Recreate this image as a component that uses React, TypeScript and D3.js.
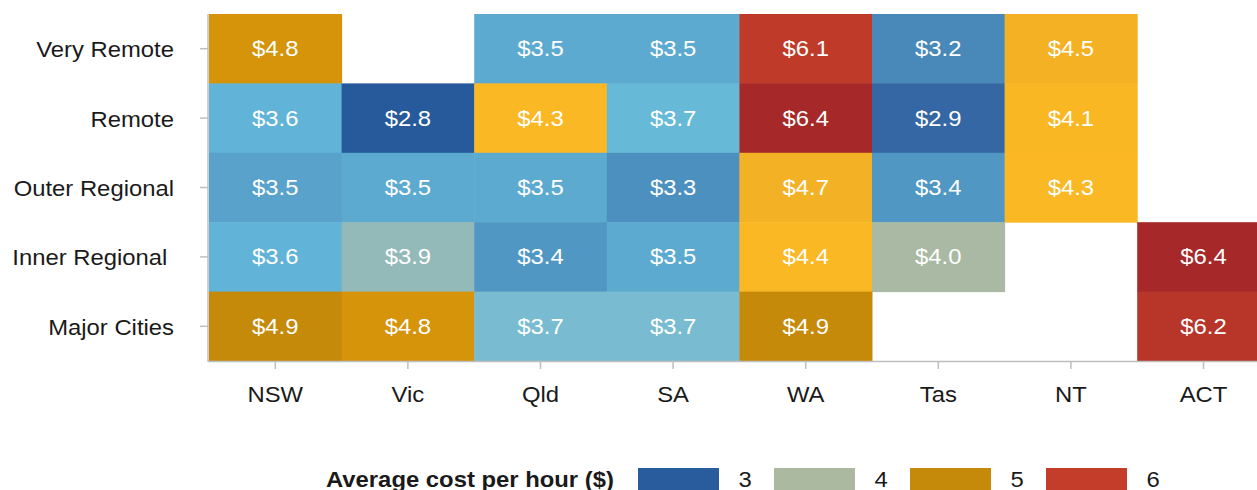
import * as d3 from "d3";
import { useEffect, useRef } from "react";

const states = ["NSW", "Vic", "Qld", "SA", "WA", "Tas", "NT", "ACT"];
const regions = ["Very Remote", "Remote", "Outer Regional", "Inner Regional", "Major Cities"];

// average cost per hour, one array per region (null = no data)
const veryRemote = [4.8, null, 3.5, 3.5, 6.1, 3.2, 4.5, null];
const remote = [3.6, 2.8, 4.3, 3.66, 6.4, 2.9, 4.1, null];
const outerRegional = [3.46, 3.5, 3.5, 3.3, 4.7, 3.4, 4.3, null];
const innerRegional = [3.6, 3.9, 3.4, 3.5, 4.4, 4.0, null, 6.4];
const majorCities = [4.9, 4.8, 3.74, 3.74, 4.9, null, null, 6.2];

const legendValues = [3, 4, 5, 6];
const legendColors = ["#285c9c", "#abb9a0", "#c68a0a", "#c43d2b"];

const colorStops: [number, string][] = [
  [2.8, "#265a9a"], [2.9, "#3467a3"], [3.2, "#4889b9"], [3.3, "#4c90bf"],
  [3.4, "#5097c4"], [3.46, "#58a2cb"], [3.5, "#5caad0"], [3.6, "#61b3d8"],
  [3.66, "#66bad8"], [3.74, "#79bbd0"], [3.9, "#93b9b9"], [4.0, "#a9b9a3"],
  [4.1, "#fab724"], [4.4, "#fbb825"], [4.5, "#f4b124"], [4.7, "#f3b125"],
  [4.8, "#d5940a"], [4.9, "#c68a0a"], [5.0, "#c68a0a"], [6.0, "#c43d2b"],
  [6.1, "#bf3a28"], [6.2, "#b8352a"], [6.4, "#a62828"],
];

const FONT = "Arial, 'Liberation Sans', sans-serif";
const STRETCH = 1.06;

export default function App() {
  const svgRef = useRef<SVGSVGElement | null>(null);

  useEffect(() => {
    if (!svgRef.current) return;
    const svg = d3.select(svgRef.current);
    svg.selectAll("*").remove();

    const width = 1257;
    const height = 490;
    const left = 209;
    const top = 14;
    const bottom = 361;

    const rows = [veryRemote, remote, outerRegional, innerRegional, majorCities];
    const cells = rows.flatMap((vals, r) =>
      vals.map((v, c) => ({ region: regions[r], state: states[c], value: v }))
    ).filter(d => d.value != null) as { region: string; state: string; value: number }[];

    const x = d3.scaleBand().domain(states).range([left, left + 132.6 * 8]).padding(0);
    const y = d3.scaleBand().domain(regions).range([top, bottom]).padding(0);
    const color = d3.scaleLinear<string>()
      .domain(colorStops.map(d => d[0]))
      .range(colorStops.map(d => d[1]))
      .clamp(true);

    const txt = (g: d3.Selection<any, any, any, any>, tx: number, ty: number) =>
      g.append("text")
        .attr("transform", `translate(${tx},${ty}) scale(${STRETCH},1)`)
        .attr("font-family", FONT)
        .attr("font-size", 22.5);

    // cells
    svg.append("g").selectAll("rect")
      .data(cells)
      .enter()
      .append("rect")
      .attr("x", d => x(d.state)!)
      .attr("y", d => y(d.region)!)
      .attr("width", x.bandwidth() + 0.5)
      .attr("height", y.bandwidth() + 0.5)
      .attr("fill", d => color(d.value));

    const labels = svg.append("g");
    cells.forEach(d => {
      txt(labels, x(d.state)! + x.bandwidth() / 2, y(d.region)! + y.bandwidth() / 2 + 7.5)
        .attr("text-anchor", "middle")
        .attr("fill", "#fff")
        .text(`$${d.value.toFixed(1)}`);
    });

    const axisColor = "#bebebe";

    // y axis
    const ya = svg.append("g");
    ya.append("line")
      .attr("x1", left - 1).attr("x2", left - 1)
      .attr("y1", top).attr("y2", bottom + 1)
      .attr("stroke", axisColor).attr("stroke-width", 1.5);
    regions.forEach(r => {
      const cy = y(r)! + y.bandwidth() / 2;
      ya.append("line")
        .attr("x1", left - 9).attr("x2", left - 1)
        .attr("y1", cy).attr("y2", cy)
        .attr("stroke", axisColor).attr("stroke-width", 1.5);
      txt(ya, 174, cy + 8.5)
        .attr("text-anchor", "end")
        .attr("fill", "#1a1a1a")
        .style("white-space", "pre")
        .text(r === "Inner Regional" ? "Inner Regional " : r);
    });

    // x axis
    const xa = svg.append("g");
    xa.append("line")
      .attr("x1", left - 1).attr("x2", width)
      .attr("y1", bottom + 0.5).attr("y2", bottom + 0.5)
      .attr("stroke", axisColor).attr("stroke-width", 1.5);
    states.forEach(s => {
      const cx = x(s)! + x.bandwidth() / 2;
      xa.append("line")
        .attr("x1", cx).attr("x2", cx)
        .attr("y1", bottom).attr("y2", bottom + 8)
        .attr("stroke", axisColor).attr("stroke-width", 1.5);
      txt(xa, cx, 401.5)
        .attr("text-anchor", "middle")
        .attr("fill", "#1a1a1a")
        .text(s);
    });

    // legend
    const lg = svg.append("g");
    txt(lg, 326, 486.5)
      .attr("font-weight", "bold")
      .attr("fill", "#1a1a1a")
      .text("Average cost per hour ($)");
    legendValues.forEach((v, i) => {
      const lx = 638 + i * 136;
      lg.append("rect")
        .attr("x", lx).attr("y", 468)
        .attr("width", 81).attr("height", 26)
        .attr("fill", legendColors[i]);
      txt(lg, lx + 107, 486.5)
        .attr("text-anchor", "middle")
        .attr("fill", "#1a1a1a")
        .text(String(v));
    });

    svg.attr("width", width).attr("height", height);
  }, []);

  return (
    <svg
      ref={svgRef}
      style={{ position: "absolute", left: 0, top: 0, background: "#fff" }}
    ></svg>
  );
}
